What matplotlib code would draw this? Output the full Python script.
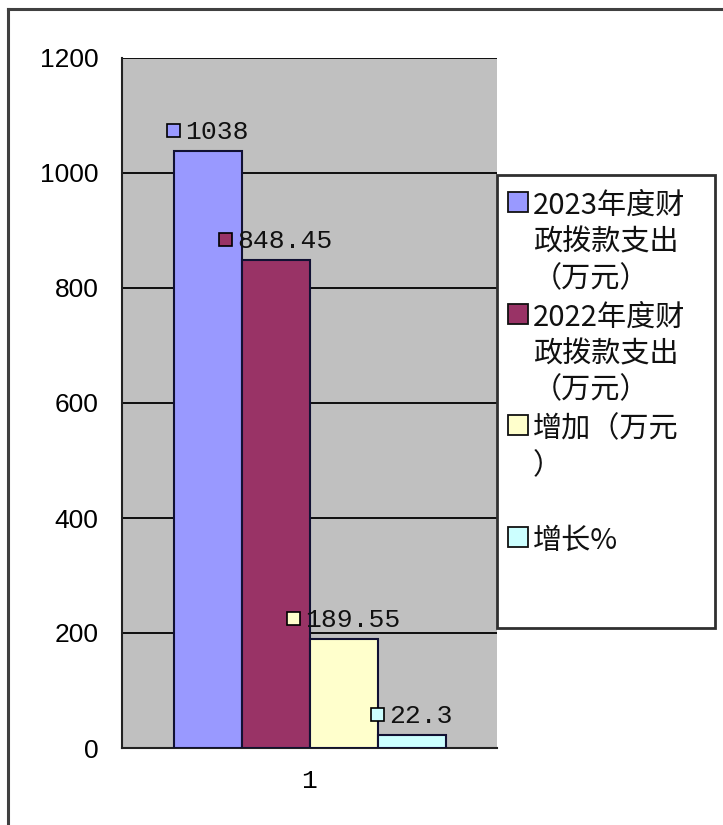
import matplotlib.pyplot as plt
from matplotlib.lines import Line2D
from matplotlib.patches import Rectangle
from matplotlib.transforms import offset_copy

# chart data
series_labels = ['2023年度财\n政拨款支出\n（万元）',
                 '2022年度财\n政拨款支出\n（万元）',
                 '增加（万元\n）',
                 '增长%']
values = [1038, 848.45, 189.55, 22.3]
value_texts = ['1038', '848.45', '189.55', '22.3']
colors = ['#9999ff', '#993366', '#ffffcc', '#ccffff']
category = ['1']
y_ticks = [0, 200, 400, 600, 800, 1000, 1200]

W, H = 723, 825
CJK = ['Noto Sans CJK SC', 'DejaVu Sans']


def fx(x):
    return x / W


def fy(y):
    return 1 - y / H


fig = plt.figure(figsize=(W / 100, H / 100), dpi=100)

# outer chart frame (only top and left are visible)
fig.add_artist(Line2D([fx(8), fx(8)], [fy(9), 0], color='#404040', lw=2.2))
fig.add_artist(Line2D([fx(8), 1], [fy(9), fy(9)], color='#404040', lw=2.2))

ax = fig.add_axes([fx(122), fy(748), (497 - 122) / W, (748 - 58) / H])
ax.set_facecolor('#c0c0c0')
ax.set_xlim(0.5, 1.5)
ax.set_ylim(0, 1200)

width = 68 / 375
for i, v in enumerate(values):
    xc = 1 + (i - 1.5) * width
    ax.bar(xc, v, width=width, color=colors[i], edgecolor='#111133', lw=1.5, zorder=3)

# data labels: small square key + value, centred over each bar
fs_lab = 19
sq = 13
for i, v in enumerate(values):
    xc = 1 + (i - 1.5) * width
    tw = len(value_texts[i]) * 0.6 * fs_lab * 100 / 72
    left = -(sq + 6 + tw) / 2
    tr_sq = offset_copy(ax.transData, fig=fig, x=left + sq / 2, y=21, units='dots')
    ax.plot([xc], [v], marker='s', ms=sq * 0.72, mfc=colors[i], mec='black', mew=1.2,
            transform=tr_sq, clip_on=False, zorder=5)
    tr_tx = offset_copy(ax.transData, fig=fig, x=left + sq + 6, y=12, units='dots')
    ax.text(xc, v, value_texts[i], transform=tr_tx, ha='left', va='baseline',
            family='Liberation Mono', fontsize=fs_lab, color='#111111', zorder=5)

ax.set_yticks(y_ticks)
ax.set_yticklabels([str(t) for t in y_ticks], family='Liberation Sans', fontsize=19)
ax.set_xticks([1])
ax.set_xticklabels(category, family='Liberation Mono', fontsize=19)
ax.tick_params(axis='y', length=0, pad=17)
ax.tick_params(axis='x', length=0, pad=15)
ax.yaxis.grid(True, color='black', lw=1.3)
ax.set_axisbelow(True)
for s in ['top', 'right']:
    ax.spines[s].set_visible(False)
for s in ['left', 'bottom']:
    ax.spines[s].set_color('#222222')
    ax.spines[s].set_linewidth(1.5)

# legend box drawn by hand to match the stacked layout
fig.add_artist(Rectangle((fx(497), fy(628)), (715 - 497) / W, (628 - 175) / H,
                         transform=fig.transFigure, facecolor='white',
                         edgecolor='#303030', lw=2))
for i, lab in enumerate(series_labels):
    base = 214 + i * 111.7
    fig.add_artist(Rectangle((fx(508), fy(base - 2)), 20 / W, 20 / H,
                             transform=fig.transFigure, facecolor=colors[i],
                             edgecolor='#111111', lw=1.3))
    for j, line in enumerate(lab.split('\n')):
        fig.text(fx(533), fy(base + j * 36.5), line, family=CJK, fontsize=21,
                 va='baseline', ha='left', color='#111111')

fig.savefig('out.png', dpi=100)
